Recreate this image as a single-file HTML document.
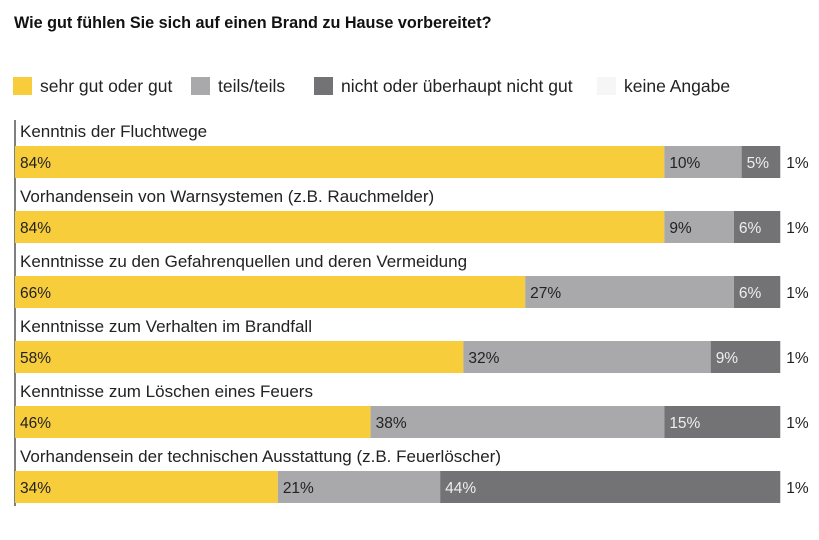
<!DOCTYPE html>
<html><head><meta charset="utf-8"><style>
body{margin:0;background:#fff;width:819px;height:535px;overflow:hidden;font-family:"Liberation Sans",sans-serif;}
svg text{font-family:"Liberation Sans",sans-serif;}
</style></head><body>
<svg id="c" width="819" height="535"></svg>
<script>
const categories=["Kenntnis der Fluchtwege","Vorhandensein von Warnsystemen (z.B. Rauchmelder)","Kenntnisse zu den Gefahrenquellen und deren Vermeidung","Kenntnisse zum Verhalten im Brandfall","Kenntnisse zum Löschen eines Feuers","Vorhandensein der technischen Ausstattung (z.B. Feuerlöscher)"];
const gut=[84,84,66,58,46,34];
const teils=[10,9,27,32,38,21];
const nicht=[5,6,6,9,15,44];
const keine=[1,1,1,1,1,1];
const seriesNames=["sehr gut oder gut","teils/teils","nicht oder überhaupt nicht gut","keine Angabe"];
const colors=["#f7cd3c","#a9a9ab","#737375","#f6f6f6"];
const txtCol=["#222","#222","#eee"];
const NS="http://www.w3.org/2000/svg";
const svg=document.getElementById('c');
function el(t,a,txt){const e=document.createElementNS(NS,t);for(const k in a)e.setAttribute(k,a[k]);if(txt!==undefined)e.textContent=txt;svg.appendChild(e);return e;}
const x0=15,pxPer=7.73;
const xs=v=>x0+v*pxPer;
let t=el('text',{x:14,y:28,'font-size':16.2,'font-weight':'bold',fill:'#111'},"Wie gut fühlen Sie sich auf einen Brand zu Hause vorbereitet?");


const legX=[13,191,314,597];
seriesNames.forEach((n,i)=>{
  const r=el('rect',{x:legX[i],y:77,width:19,height:18,fill:colors[i]});
  
  
  const tx=el('text',{x:legX[i]+27,y:92,'font-size':17.5,fill:'#222'},n);
  
  
});
const ax=el('line',{x1:15,y1:120,x2:15,y2:506,stroke:'#555','stroke-width':1.5});


categories.forEach((c,i)=>{
  const y=146+i*65;
  const lb=el('text',{x:20,y:y-9,'font-size':17,fill:'#222'},c);
  
  
  const vals=[gut[i],teils[i],nicht[i]];
  let acc=0;
  vals.forEach((v,j)=>{
    const r=el('rect',{x:xs(acc),y:y,width:v*pxPer,height:32,fill:colors[j]});
    
    
    const tx=el('text',{x:xs(acc)+5,y:y+22,'font-size':15.5,fill:txtCol[j]},v+"%");
    
    
    acc+=v;
  });
  const k=el('text',{x:xs(acc)+6,y:y+22,'font-size':15.5,fill:'#222'},keine[i]+"%");
  
  
});
</script>
</body></html>
